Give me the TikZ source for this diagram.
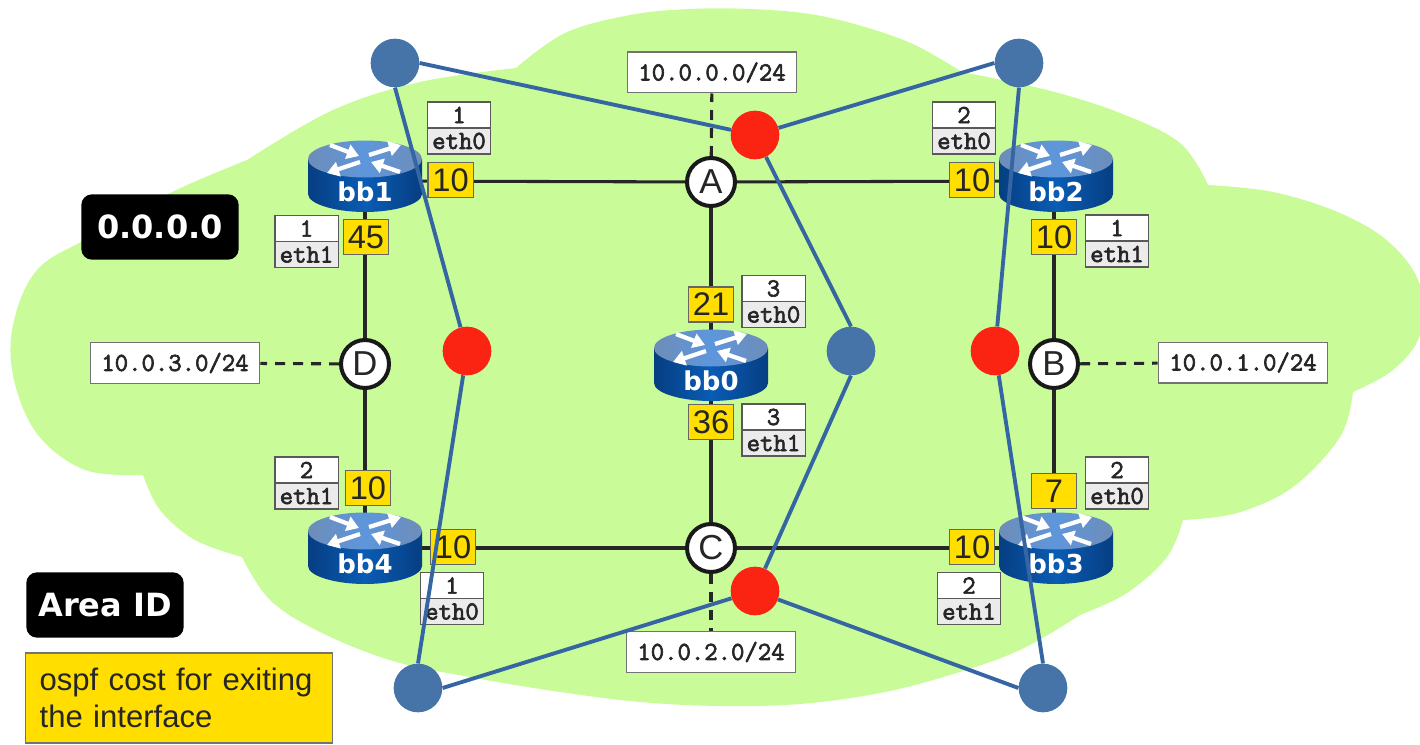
\documentclass[tikz,border=0pt]{standalone}
\usepackage{fontspec}
\setmainfont{Liberation Sans}
\setmonofont[FakeBold=2.5]{Latin Modern Mono}
\newfontfamily\dvs{DejaVu Sans}
\usetikzlibrary{arrows.meta}
\definecolor{cloudg}{HTML}{C9FC98}
\definecolor{gold}{HTML}{FFDE00}
\definecolor{bluel}{HTML}{3565A3}
\definecolor{bluen}{HTML}{4674A8}
\definecolor{redn}{HTML}{FB2412}
\definecolor{rtopa}{HTML}{6E8DB8}
\definecolor{rtopb}{HTML}{5E96DC}
\definecolor{rside}{HTML}{0A5CB4}
\definecolor{rdark}{HTML}{063E82}
\pgfdeclarelayer{cloudlayer}
\pgfdeclarelayer{linklayer}
\pgfdeclarelayer{overlines}
\pgfdeclarelayer{overdots}
\pgfsetlayers{cloudlayer,linklayer,main,overlines,overdots}
\tikzset{
  x=0.75pt,y=-0.75pt,
  link/.style={draw=black!85,line width=2.3pt},
  stub/.style={draw=black!85,line width=2.3pt,dash pattern=on 7.5pt off 6pt},
  costbox/.style={draw=black!60,fill=gold,line width=1pt,inner sep=0,minimum width=34pt,minimum height=26pt,font=\fontsize{24.5pt}{24.5pt}\selectfont,text=black!85},
  netbox/.style={draw=black!55,fill=white,line width=1pt,inner sep=0,minimum width=127pt,minimum height=30.5pt,text=black!85,font=\ttfamily\fontsize{19.5pt}{19.5pt}\selectfont},
  junction/.style={circle,draw=black!90,fill=white,line width=3pt,inner sep=0,minimum size=36pt,text=black!85,font=\fontsize{26pt}{26pt}\selectfont},
  overlayblue/.style={draw=bluel,line width=2.9pt},
  bluedot/.style={circle,fill=bluen,inner sep=0,minimum size=36.5pt},
  reddot/.style={circle,fill=redn,inner sep=0,minimum size=36.5pt},
  tagtop/.style={draw=black!65,fill=white,line width=1pt,inner sep=0,minimum width=47.5pt,minimum height=19.5pt,text=black!85,font=\ttfamily\fontsize{19.5pt}{19.5pt}\selectfont},
  tagbot/.style={draw=black!65,fill=black!8,line width=1pt,inner sep=0,minimum width=47.5pt,minimum height=19.5pt,text=black!85,font=\ttfamily\fontsize{19.5pt}{19.5pt}\selectfont},
  rname/.style={inner sep=0,text=white,font=\dvs\bfseries\fontsize{19.5pt}{19.5pt}\selectfont},
  rarrow/.style={draw=white,line width=3.2pt,-{Triangle[length=9pt,width=11pt]}},
  blacklabel/.style={fill=black,rounded corners=8pt,text=white,inner sep=0,minimum width=118pt,minimum height=49pt,font=\dvs\bfseries\fontsize{24pt}{24pt}\selectfont},
  legendbox/.style={draw=black!55,fill=gold,line width=1pt,inner ysep=0,inner xsep=10.5pt,text width=209pt,minimum height=67.5pt,align=left,text=black!85,font=\fontsize{23.3pt}{27.5pt}\selectfont}
}
\newcommand{\routerat}[3]{%
  \begin{scope}[shift={(#1,#2)}]
    \shade[left color=rdark,right color=rdark,middle color=rside]
      (-57,-17) -- (-57,18) .. controls (-57,28) and (-30,36) .. (0,36) .. controls (30,36) and (57,28) .. (57,18) -- (57,-17) -- cycle;
    \shade[left color=rtopa,right color=rtopa,middle color=rtopb] (0,-17) ellipse[x radius=57,y radius=18.5];
    \draw[rarrow] (-35,-31) -- (-6,-20);
    \draw[rarrow] (35,-4) -- (6,-14);
    \draw[rarrow] (4,-21) -- (36,-31);
    \draw[rarrow] (-5,-14) -- (-38,-3);
    \node[rname] (name#3) at (0,16) {#3};
  \end{scope}}
\begin{document}
\begin{tikzpicture}
\useasboundingbox (0,0) rectangle (1420,745);
\begin{pgfonlayer}{cloudlayer}
\fill[cloudg]
  plot[smooth,tension=.6] coordinates {(143,475) (85,470) (38,435) (14,380) (13,325) (37,270) (90,237) (170,193) (247,160)}
  -- plot[smooth,tension=.6] coordinates {(247,160) (333,110) (420,82) (516,68)}
  -- plot[smooth,tension=.6] coordinates {(516,68) (565,33) (630,15) (690,9) (750,9) (810,14) (865,27) (915,45) (962,72)}
  -- plot[smooth,tension=.6] coordinates {(962,72) (1047,90) (1120,113) (1180,143) (1208,185)}
  -- plot[smooth,tension=.6] coordinates {(1208,185) (1273,192) (1340,213) (1390,243) (1420,285) (1420,335) (1393,370) (1353,392)}
  -- plot[smooth,tension=.6] coordinates {(1353,392) (1340,437) (1293,487) (1237,513) (1183,520)}
  -- plot[smooth,tension=.6] coordinates {(1183,520) (1167,557) (1127,593) (1080,615)}
  -- plot[smooth,tension=.6] coordinates {(1080,615) (1020,650) (950,675) (880,693) (800,704) (720,706) (640,702) (560,692) (475,678) (393,661) (320,632) (270,600) (242,557)}
  -- plot[smooth,tension=.6] coordinates {(242,557) (195,540) (160,510) (143,475)}
  -- cycle;
\end{pgfonlayer}
% junctions
\node[junction] (A) at (711,182) {A};
\node[junction] (B) at (1054,364) {B};
\node[junction] (C) at (711,548) {C};
\node[junction] (D) at (365,364) {D};
% subnets
\node[netbox] (netA) at (712,72.5) {10.0.0.0/24};
\node[netbox] (netB) at (1243,362.5) {10.0.1.0/24};
\node[netbox] (netC) at (711,652) {10.0.2.0/24};
\node[netbox] (netD) at (175,363) {10.0.3.0/24};
% routers
\coordinate (rbb0) at (711,365);
\coordinate (rbb1) at (365,181);
\coordinate (rbb2) at (1054,181);
\coordinate (rbb3) at (1054,548);
\coordinate (rbb4) at (365,548);
\routerat{711}{365}{bb0}
\routerat{365}{176}{bb1}
\routerat{1056}{176}{bb2}
\routerat{1056}{548}{bb3}
\routerat{365}{548}{bb4}
% links
\begin{pgfonlayer}{linklayer}
\draw[stub] (A) -- (netA);
\draw[stub] (C) -- (netC);
\draw[stub] (D) -- (netD);
\draw[stub] (B) -- (netB);
\draw[link] (A) -- (rbb1);
\draw[link] (A) -- (rbb2);
\draw[link] (A) -- (rbb0);
\draw[link] (C) -- (rbb0);
\draw[link] (C) -- (rbb4);
\draw[link] (C) -- (rbb3);
\draw[link] (D) -- (rbb1);
\draw[link] (D) -- (rbb4);
\draw[link] (B) -- (rbb2);
\draw[link] (B) -- (rbb3);
\end{pgfonlayer}
% costs
\node[costbox] (c1) at (450.5,180) {10};
\node[costbox] (c2) at (366,237) {45};
\node[costbox] (c3) at (972,180) {10};
\node[costbox] (c4) at (1054,237) {10};
\node[costbox] (c5) at (711,304.5) {21};
\node[costbox] (c6) at (711,422) {36};
\node[costbox] (c7) at (368,488) {10};
\node[costbox] (c8) at (1054,491) {7};
\node[costbox] (c9) at (453,547) {10};
\node[costbox] (c10) at (972,547) {10};
% interface tags
\foreach \nm/\x/\y/\n/\e in {a/459/128/1/eth0,b/306.5/241.5/1/eth1,c/964/128/2/eth0,d/1117/241/1/eth1,e/773.5/301.5/3/eth0,f/773.5/430/3/eth1,g/306.5/483/2/eth1,h/1117/483/2/eth0,i/452/598.5/1/eth0,j/969/598.5/2/eth1}{
  \node[tagtop] (t\nm) at (\x,\y-13) {\n};
  \node[tagbot] (u\nm) at (\x,\y+13) {\e};
}
% overlay dots
\begin{pgfonlayer}{overdots}
\node[bluedot] (q1) at (395,63) {};
\node[bluedot] (q2) at (1019,63) {};
\node[bluedot] (q3) at (851,351) {};
\node[bluedot] (q4) at (418,688) {};
\node[bluedot] (q5) at (1043,688) {};
\node[reddot] (r1) at (755,135) {};
\node[reddot] (r2) at (467,351) {};
\node[reddot] (r3) at (995,351) {};
\node[reddot] (r4) at (755,591) {};
\end{pgfonlayer}
\begin{pgfonlayer}{overlines}
\draw[overlayblue] (q1.east) -- (r1);
\draw[overlayblue] (q2.west) -- (r1);
\draw[overlayblue] (q3.north) -- (r1);
\draw[overlayblue] (q1.south) -- (r2);
\draw[overlayblue] (q4.north) -- (r2);
\draw[overlayblue] (q2.south) -- (r3);
\draw[overlayblue] (q5.north) -- (r3);
\draw[overlayblue] (q3.south) -- (r4);
\draw[overlayblue] (q4.east) -- (r4);
\draw[overlayblue] (q5.west) -- (r4);
\end{pgfonlayer}
% labels
\node[blacklabel] (area0) at (160,227) {0.0.0.0};
\node[blacklabel] (areaid) at (105,605) {Area ID};
\node[legendbox] (legend) at (179,698) {ospf cost for exiting\\the interface};
\end{tikzpicture}
\end{document}
